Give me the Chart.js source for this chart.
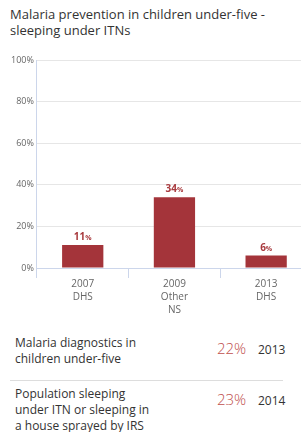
<!DOCTYPE html>
<html>
<head>
<meta charset="utf-8">
<script src="https://cdn.jsdelivr.net/npm/chart.js@4/dist/chart.umd.min.js"></script>
<style>
    body { margin: 0; width: 301px; height: 432px; overflow: hidden; background: #fff; font-family: 'Open Sans', sans-serif; position: relative; }
    .title { position: absolute; left: 10px; top: 6px; font-size: 13px; line-height: 16px; color: #333; }
    .chartWrap { position: absolute; left: 0; top: 48px; width: 312px; height: 272px; }
    .stat { position: absolute; left: 15px; width: 270px; font-size: 12px; line-height: 16px; color: #333; }
    .stat .name { position: absolute; left: 0; top: 0; }
    .stat .val { position: absolute; left: 202px; font-size: 15px; font-weight: 300; color: #c0504d; }
    .stat .yr { position: absolute; left: 243px; font-size: 12px; color: #333; }
    .sep { position: absolute; left: 10px; top: 380px; width: 273px; height: 1px; background: #ddd; }
</style>
</head>
<body>
<div class="title">Malaria prevention in children under-five -<br>sleeping under ITNs</div>
<div class="chartWrap"><canvas id="itnChart"></canvas></div>
<div id="stats"></div>
<div class="sep"></div>

<script>
// Chart data
const categories = [['2007', 'DHS'], ['2009', 'Other', 'NS'], ['2013', 'DHS']];
const itnValues = [11, 34, 6];
const yTicks = [0, 20, 40, 60, 80, 100];

// Indicators below the chart
const statNames = [['Malaria diagnostics in', 'children under-five'], ['Population sleeping', 'under ITN or sleeping in', 'a house sprayed by IRS']];
const statValues = [22, 23];
const statYears = ['2013', '2014'];

const BAR_COLOR = '#a4343a';

// Value labels above bars: big number, small percent sign
const valueLabels = {
    id: 'valueLabels',
    afterDatasetsDraw(chart) {
        const ctx = chart.ctx;
        const meta = chart.getDatasetMeta(0);
        ctx.save();
        ctx.fillStyle = '#a83a3e';
        ctx.textBaseline = 'alphabetic';
        meta.data.forEach((bar, i) => {
            const num = String(itnValues[i]);
            ctx.font = 'bold 10px "Open Sans"';
            const w1 = ctx.measureText(num).width;
            ctx.font = 'bold 7px "Open Sans"';
            const w2 = ctx.measureText('%').width;
            const x0 = bar.x - (w1 + w2) / 2;
            const y = bar.y - 5;
            ctx.font = 'bold 10px "Open Sans"';
            ctx.fillText(num, x0, y);
            ctx.font = 'bold 7px "Open Sans"';
            ctx.fillText('%', x0 + w1, y);
        });
        ctx.restore();
    }
};

const ctx = document.getElementById('itnChart').getContext('2d');
new Chart(ctx, {
    type: 'bar',
    data: {
        labels: categories,
        datasets: [{
            data: itnValues,
            backgroundColor: BAR_COLOR,
            barPercentage: 0.45,
            categoryPercentage: 1
        }]
    },
    options: {
        responsive: true,
        maintainAspectRatio: false,
        animation: false,
        layout: { padding: { top: 12, right: 0, left: 8, bottom: 3 } },
        plugins: {
            legend: { display: false },
            tooltip: { enabled: false }
        },
        scales: {
            x: {
                grid: {
                    offset: true,
                    drawOnChartArea: false,
                    drawTicks: true,
                    tickLength: 10,
                    color: '#ccd6eb'
                },
                border: { color: '#ccd6eb' },
                ticks: {
                    color: '#666',
                    font: { family: 'Open Sans', size: 10, lineHeight: 1.3 },
                    padding: 0,
                    maxRotation: 0
                }
            },
            y: {
                min: 0,
                max: 100,
                afterBuildTicks: axis => { axis.ticks = yTicks.map(v => ({ value: v })); },
                grid: { color: '#e6e6e6', drawTicks: false },
                border: { color: '#ccd6eb' },
                ticks: {
                    color: '#666',
                    font: { family: 'Open Sans', size: 9 },
                    padding: 3,
                    callback: v => v + '%'
                }
            }
        }
    },
    plugins: [valueLabels]
});

// Build indicator rows
const statsEl = document.getElementById('stats');
const statTops = [335, 386];
statNames.forEach((lines, i) => {
    const row = document.createElement('div');
    row.className = 'stat';
    row.style.top = statTops[i] + 'px';
    const name = document.createElement('div');
    name.className = 'name';
    name.innerHTML = lines.join('<br>');
    const val = document.createElement('div');
    val.className = 'val';
    val.style.top = '5px';
    val.textContent = statValues[i] + '%';
    const yr = document.createElement('div');
    yr.className = 'yr';
    yr.style.top = '7px';
    yr.textContent = statYears[i];
    row.appendChild(name);
    row.appendChild(val);
    row.appendChild(yr);
    statsEl.appendChild(row);
});
</script>
</body>
</html>
